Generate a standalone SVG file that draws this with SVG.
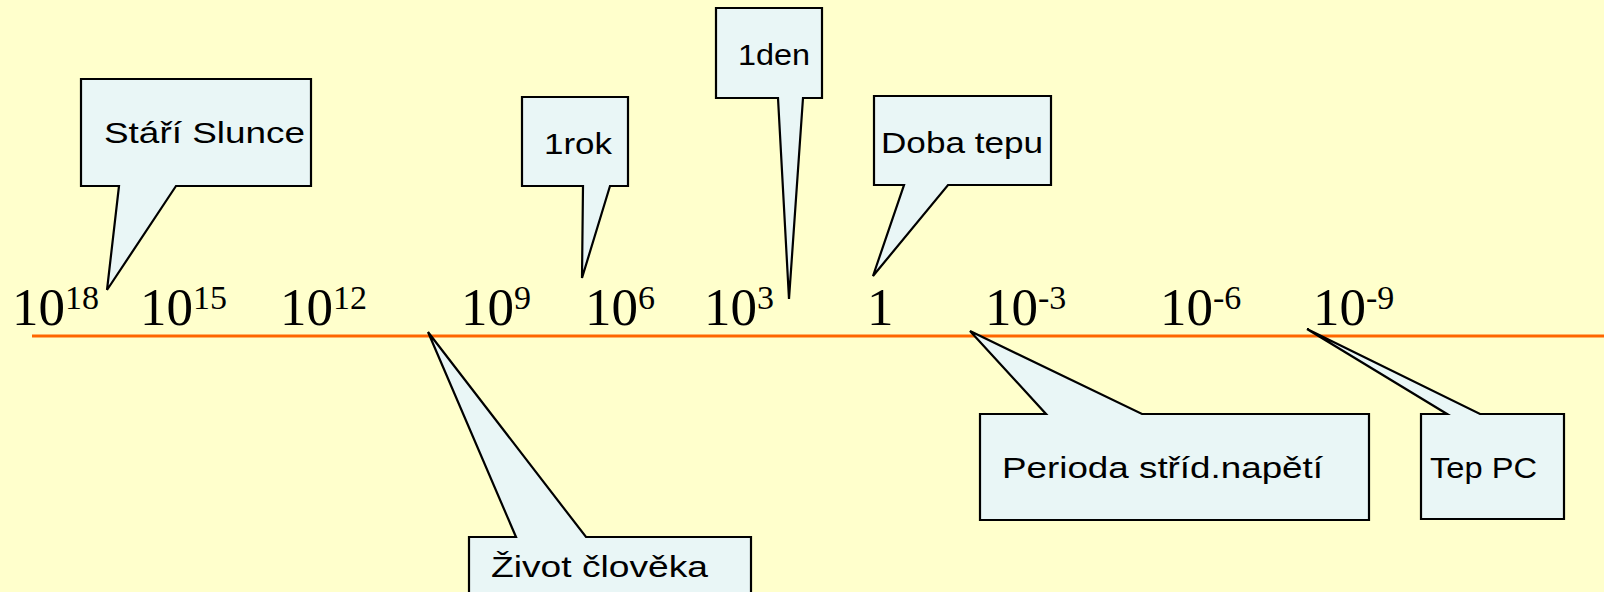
<svg xmlns="http://www.w3.org/2000/svg" width="1604" height="592" viewBox="0 0 1604 592">
<style>
.bg{fill:#FFFFCC}
.axis{stroke:#FF6600;stroke-width:3;fill:none}
.call{fill:#E9F6F6;stroke:#000;stroke-width:2.2;stroke-linejoin:miter}
.lbl{font-family:"Liberation Sans",Arial,sans-serif;font-size:29px;fill:#000}
.num{font-family:"Liberation Serif","Times New Roman",serif;font-size:53px;fill:#000}
.sup{font-size:34px}
</style>
<rect class="bg" x="0" y="0" width="1604" height="592"/>
<g id="connectors">
<line class="axis" x1="32" y1="336" x2="1604" y2="336"/>
</g>
<g id="ticks">
<text class="num" x="12" y="325">10<tspan class="sup" y="309">18</tspan></text>
<text class="num" x="140" y="325">10<tspan class="sup" y="309">15</tspan></text>
<text class="num" x="280" y="325">10<tspan class="sup" y="309">12</tspan></text>
<text class="num" x="461" y="325">10<tspan class="sup" y="309">9</tspan></text>
<text class="num" x="585" y="325">10<tspan class="sup" y="309">6</tspan></text>
<text class="num" x="704" y="325">10<tspan class="sup" y="309">3</tspan></text>
<text class="num" x="867" y="325">1</text>
<text class="num" x="985" y="325">10<tspan class="sup" y="309">-3</tspan></text>
<text class="num" x="1160" y="325">10<tspan class="sup" y="309">-6</tspan></text>
<text class="num" x="1313" y="325">10<tspan class="sup" y="309">-9</tspan></text>
</g>
<g id="stari-slunce">
<path class="call" d="M81,79 H311 V186 H176 L107,290 L119,186 H81 Z"/>
<text class="lbl" x="104" y="143" textLength="201" lengthAdjust="spacingAndGlyphs">Stáří Slunce</text>
</g>
<g id="rok">
<path class="call" d="M522,97 H628 V186 H610 L582,278 L583,186 H522 Z"/>
<text class="lbl" x="544" y="154" textLength="68" lengthAdjust="spacingAndGlyphs">1rok</text>
</g>
<g id="den">
<path class="call" d="M716,8 H822 V98 H803 L789,299 L778,98 H716 Z"/>
<text class="lbl" x="738" y="65" textLength="72" lengthAdjust="spacingAndGlyphs">1den</text>
</g>
<g id="doba-tepu">
<path class="call" d="M874,96 H1051 V185 H948 L873,276 L904,185 H874 Z"/>
<text class="lbl" x="881" y="153" textLength="162" lengthAdjust="spacingAndGlyphs">Doba tepu</text>
</g>
<g id="zivot-cloveka">
<path class="call" d="M469,537 H516 L428,332 L586,537 H751 V600 H469 Z"/>
<text class="lbl" x="491" y="577" textLength="217" lengthAdjust="spacingAndGlyphs">Život člověka</text>
</g>
<g id="perioda">
<path class="call" d="M980,414 H1046 L970,331 L1142,414 H1369 V520 H980 Z"/>
<text class="lbl" x="1002" y="478" textLength="321" lengthAdjust="spacingAndGlyphs">Perioda stříd.napětí</text>
</g>
<g id="tep-pc">
<path class="call" d="M1421,414 H1447 L1307,329 L1480,414 H1564 V519 H1421 Z"/>
<text class="lbl" x="1430" y="478" textLength="107" lengthAdjust="spacingAndGlyphs">Tep PC</text>
</g>
</svg>
